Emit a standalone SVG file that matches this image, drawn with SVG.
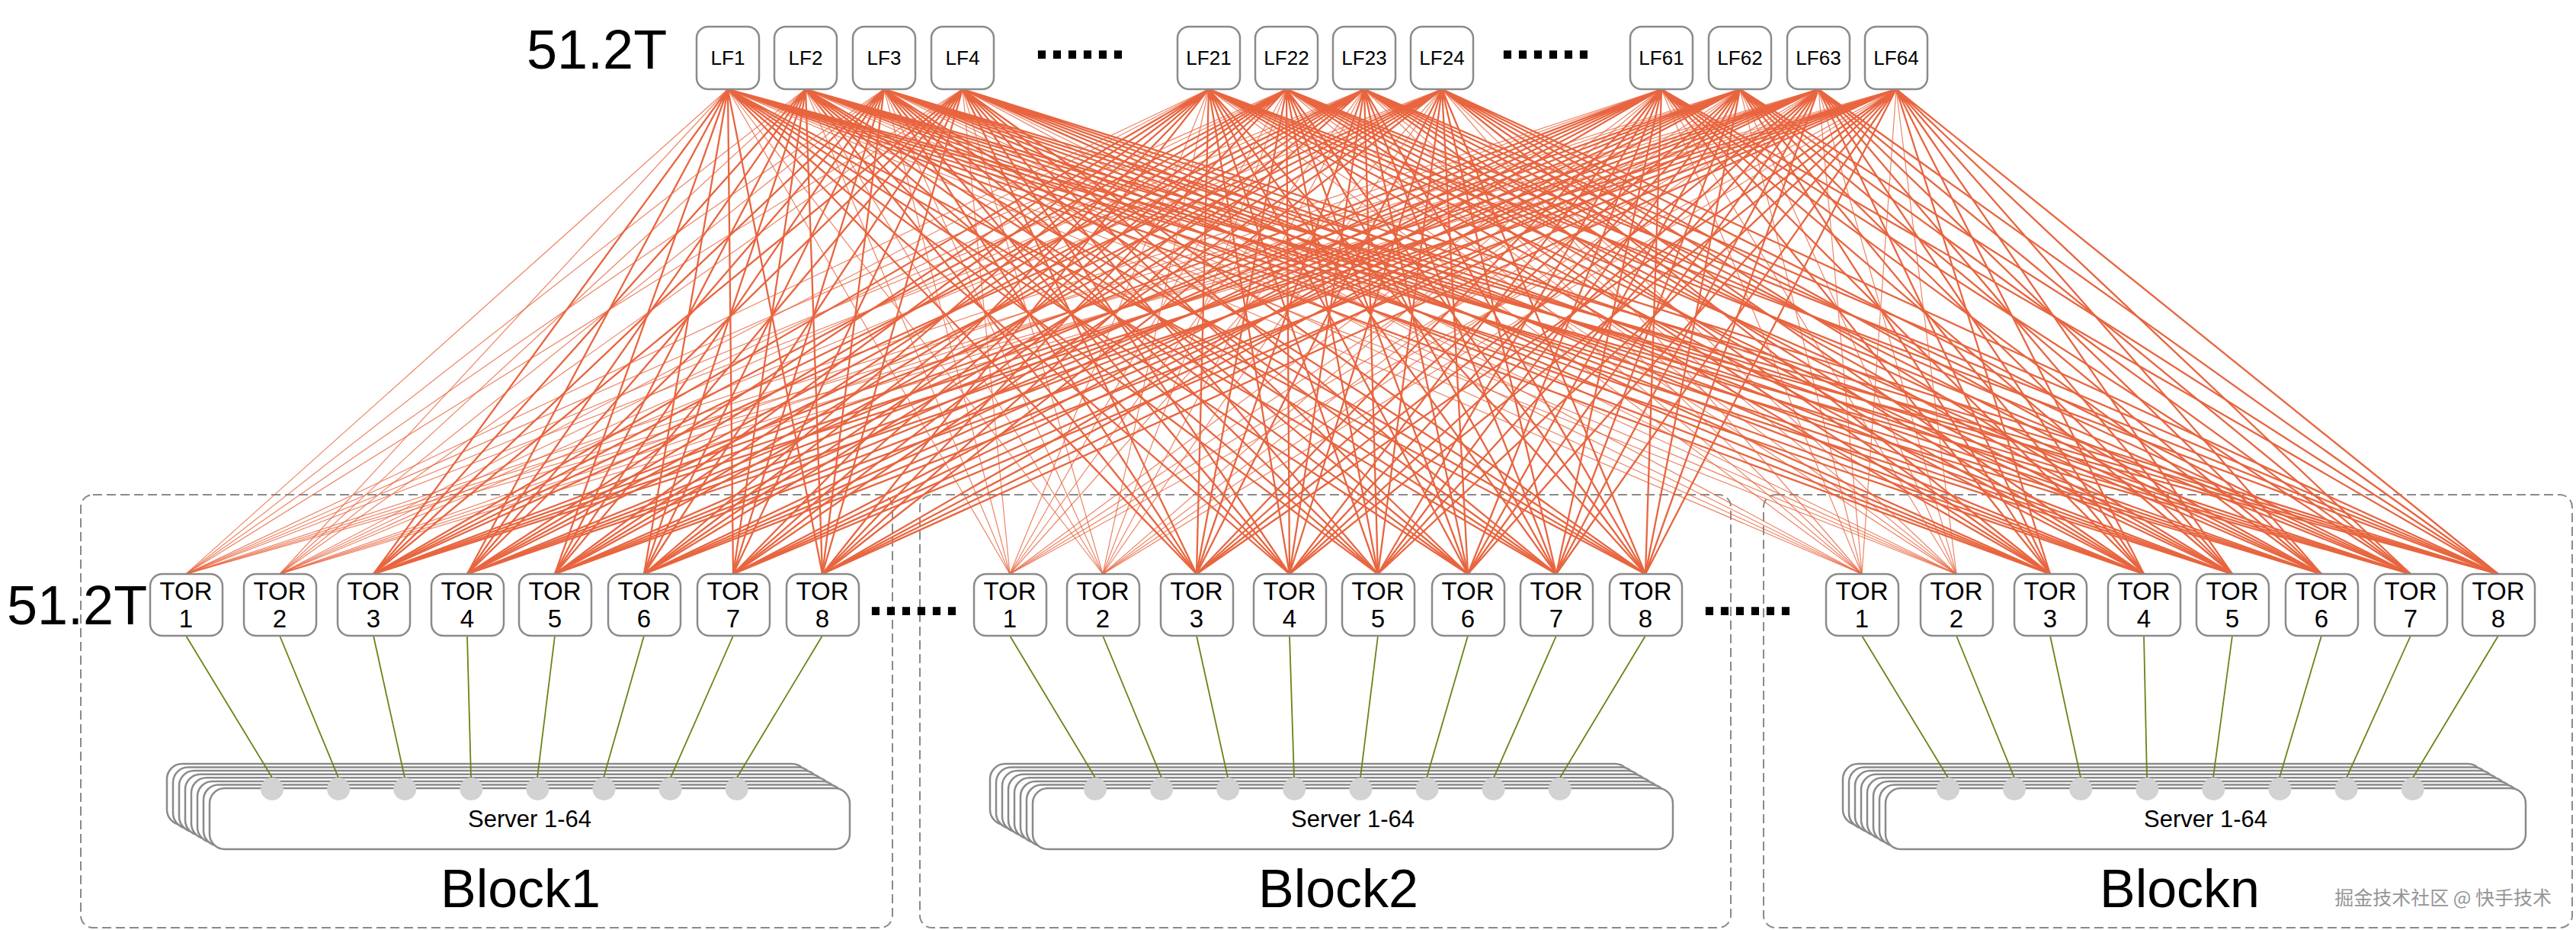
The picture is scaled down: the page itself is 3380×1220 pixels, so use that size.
<svg xmlns="http://www.w3.org/2000/svg" xmlns:xlink="http://www.w3.org/1999/xlink" width="3380" height="1220" viewBox="0 0 3380 1220">
<style>
text{font-family:"Liberation Sans",Arial,"Noto Sans CJK SC",sans-serif;fill:#000}
.box rect{fill:#fff;stroke:#8a8a8a;stroke-width:2.5}
.lbl{font-size:26px;text-anchor:middle}
.tl{font-size:33px;text-anchor:middle}
.blk{fill:none;stroke:#8a8a8a;stroke-width:2;stroke-dasharray:12 6}
.sr{fill:#fff;stroke:#8a8a8a;stroke-width:2.5}
.thick{fill:none;stroke:#e8653f;stroke-width:2.3;stroke-linejoin:round}
.thin{fill:none;stroke:#e8653f;stroke-width:1.2;stroke-linejoin:round;opacity:.8}
.grn line{stroke:#668516;stroke-width:1.8}
.big{font-size:72px}
.dots{font-size:72px;font-weight:bold}
.srvt{font-size:31px;text-anchor:middle}
.bt{font-size:70px;text-anchor:middle}
</style>
<defs>
<rect id="sr" class="sr" width="840" height="80" rx="20"/>
<g id="stack">
<use xlink:href="#sr" x="-56" y="-32"/>
<use xlink:href="#sr" x="-48" y="-27.4"/>
<use xlink:href="#sr" x="-40" y="-22.9"/>
<use xlink:href="#sr" x="-32" y="-18.3"/>
<use xlink:href="#sr" x="-24" y="-13.7"/>
<use xlink:href="#sr" x="-16" y="-9.1"/>
<use xlink:href="#sr" x="-8" y="-4.6"/>
<use xlink:href="#sr" x="0" y="0"/>
<g fill="#d3d3d3">
<circle cx="82" cy="1" r="15"/><circle cx="169.1" cy="1" r="15"/><circle cx="256.2" cy="1" r="15"/><circle cx="343.3" cy="1" r="15"/>
<circle cx="430.4" cy="1" r="15"/><circle cx="517.5" cy="1" r="15"/><circle cx="604.6" cy="1" r="15"/><circle cx="691.7" cy="1" r="15"/>
</g>
</g>
</defs>
<rect width="3380" height="1220" fill="#fff"/>

<g id="block1"><rect class="blk" x="106" y="649" width="1065" height="568" rx="16"/><text class="bt" x="683" y="1190">Block1</text></g>
<g id="block2"><rect class="blk" x="1207" y="649" width="1064" height="568" rx="16"/><text class="bt" x="1756" y="1190">Block2</text></g>
<g id="blockn"><rect class="blk" x="2314" y="649" width="1061" height="568" rx="16"/><text class="bt" x="2860" y="1190">Blockn</text></g>

<g id="servers1"><use xlink:href="#stack" x="275" y="1034"/><text class="srvt" x="695" y="1085">Server 1-64</text></g>
<g id="servers2"><use xlink:href="#stack" x="1355" y="1034"/><text class="srvt" x="1775" y="1085">Server 1-64</text></g>
<g id="serversn"><use xlink:href="#stack" x="2474" y="1034"/><text class="srvt" x="2894" y="1085">Server 1-64</text></g>

<g id="connectors">
<path class="thin" d="M244 753L955 117L367 753M1325 753L955 117L1447 753M2443 753L955 117L2567 753"/>
<path class="thin" d="M244 753L1057 117L367 753M1325 753L1057 117L1447 753M2443 753L1057 117L2567 753"/>
<path class="thin" d="M244 753L1160 117L367 753M1325 753L1160 117L1447 753M2443 753L1160 117L2567 753"/>
<path class="thin" d="M244 753L1263 117L367 753M1325 753L1263 117L1447 753M2443 753L1263 117L2567 753"/>
<path class="thin" d="M244 753L1586 117L367 753M1325 753L1586 117L1447 753M2443 753L1586 117L2567 753"/>
<path class="thin" d="M244 753L1688 117L367 753M1325 753L1688 117L1447 753M2443 753L1688 117L2567 753"/>
<path class="thin" d="M244 753L1790 117L367 753M1325 753L1790 117L1447 753M2443 753L1790 117L2567 753"/>
<path class="thin" d="M244 753L1892 117L367 753M1325 753L1892 117L1447 753M2443 753L1892 117L2567 753"/>
<path class="thin" d="M244 753L2180 117L367 753M1325 753L2180 117L1447 753M2443 753L2180 117L2567 753"/>
<path class="thin" d="M244 753L2283 117L367 753M1325 753L2283 117L1447 753M2443 753L2283 117L2567 753"/>
<path class="thin" d="M244 753L2386 117L367 753M1325 753L2386 117L1447 753M2443 753L2386 117L2567 753"/>
<path class="thin" d="M244 753L2488 117L367 753M1325 753L2488 117L1447 753M2443 753L2488 117L2567 753"/>
<path class="thick" d="M490 753L955 117L613 753M728 753L955 117L845 753M962 753L955 117L1079 753M1570 753L955 117L1692 753M1808 753L955 117L1926 753M2042 753L955 117L2159 753M2690 753L955 117L2813 753M2929 753L955 117L3046 753M3163 753L955 117L3278 753"/>
<path class="thick" d="M490 753L1057 117L613 753M728 753L1057 117L845 753M962 753L1057 117L1079 753M1570 753L1057 117L1692 753M1808 753L1057 117L1926 753M2042 753L1057 117L2159 753M2690 753L1057 117L2813 753M2929 753L1057 117L3046 753M3163 753L1057 117L3278 753"/>
<path class="thick" d="M490 753L1160 117L613 753M728 753L1160 117L845 753M962 753L1160 117L1079 753M1570 753L1160 117L1692 753M1808 753L1160 117L1926 753M2042 753L1160 117L2159 753M2690 753L1160 117L2813 753M2929 753L1160 117L3046 753M3163 753L1160 117L3278 753"/>
<path class="thick" d="M490 753L1263 117L613 753M728 753L1263 117L845 753M962 753L1263 117L1079 753M1570 753L1263 117L1692 753M1808 753L1263 117L1926 753M2042 753L1263 117L2159 753M2690 753L1263 117L2813 753M2929 753L1263 117L3046 753M3163 753L1263 117L3278 753"/>
<path class="thick" d="M490 753L1586 117L613 753M728 753L1586 117L845 753M962 753L1586 117L1079 753M1570 753L1586 117L1692 753M1808 753L1586 117L1926 753M2042 753L1586 117L2159 753M2690 753L1586 117L2813 753M2929 753L1586 117L3046 753M3163 753L1586 117L3278 753"/>
<path class="thick" d="M490 753L1688 117L613 753M728 753L1688 117L845 753M962 753L1688 117L1079 753M1570 753L1688 117L1692 753M1808 753L1688 117L1926 753M2042 753L1688 117L2159 753M2690 753L1688 117L2813 753M2929 753L1688 117L3046 753M3163 753L1688 117L3278 753"/>
<path class="thick" d="M490 753L1790 117L613 753M728 753L1790 117L845 753M962 753L1790 117L1079 753M1570 753L1790 117L1692 753M1808 753L1790 117L1926 753M2042 753L1790 117L2159 753M2690 753L1790 117L2813 753M2929 753L1790 117L3046 753M3163 753L1790 117L3278 753"/>
<path class="thick" d="M490 753L1892 117L613 753M728 753L1892 117L845 753M962 753L1892 117L1079 753M1570 753L1892 117L1692 753M1808 753L1892 117L1926 753M2042 753L1892 117L2159 753M2690 753L1892 117L2813 753M2929 753L1892 117L3046 753M3163 753L1892 117L3278 753"/>
<path class="thick" d="M490 753L2180 117L613 753M728 753L2180 117L845 753M962 753L2180 117L1079 753M1570 753L2180 117L1692 753M1808 753L2180 117L1926 753M2042 753L2180 117L2159 753M2690 753L2180 117L2813 753M2929 753L2180 117L3046 753M3163 753L2180 117L3278 753"/>
<path class="thick" d="M490 753L2283 117L613 753M728 753L2283 117L845 753M962 753L2283 117L1079 753M1570 753L2283 117L1692 753M1808 753L2283 117L1926 753M2042 753L2283 117L2159 753M2690 753L2283 117L2813 753M2929 753L2283 117L3046 753M3163 753L2283 117L3278 753"/>
<path class="thick" d="M490 753L2386 117L613 753M728 753L2386 117L845 753M962 753L2386 117L1079 753M1570 753L2386 117L1692 753M1808 753L2386 117L1926 753M2042 753L2386 117L2159 753M2690 753L2386 117L2813 753M2929 753L2386 117L3046 753M3163 753L2386 117L3278 753"/>
<path class="thick" d="M490 753L2488 117L613 753M728 753L2488 117L845 753M962 753L2488 117L1079 753M1570 753L2488 117L1692 753M1808 753L2488 117L1926 753M2042 753L2488 117L2159 753M2690 753L2488 117L2813 753M2929 753L2488 117L3046 753M3163 753L2488 117L3278 753"/>
<g class="grn">
<line x1="244" y1="834" x2="357" y2="1020"/><line x1="367" y1="834" x2="444" y2="1020"/><line x1="490" y1="834" x2="531" y2="1020"/><line x1="613" y1="834" x2="618" y2="1020"/>
<line x1="728" y1="834" x2="705" y2="1020"/><line x1="845" y1="834" x2="792" y2="1020"/><line x1="962" y1="834" x2="880" y2="1020"/><line x1="1079" y1="834" x2="967" y2="1020"/>
<line x1="1325" y1="834" x2="1437" y2="1020"/><line x1="1447" y1="834" x2="1524" y2="1020"/><line x1="1570" y1="834" x2="1611" y2="1020"/><line x1="1692" y1="834" x2="1698" y2="1020"/>
<line x1="1808" y1="834" x2="1785" y2="1020"/><line x1="1926" y1="834" x2="1872" y2="1020"/><line x1="2042" y1="834" x2="1960" y2="1020"/><line x1="2159" y1="834" x2="2047" y2="1020"/>
<line x1="2443" y1="834" x2="2556" y2="1020"/><line x1="2567" y1="834" x2="2643" y2="1020"/><line x1="2690" y1="834" x2="2730" y2="1020"/><line x1="2813" y1="834" x2="2817" y2="1020"/>
<line x1="2929" y1="834" x2="2904" y2="1020"/><line x1="3046" y1="834" x2="2991" y2="1020"/><line x1="3163" y1="834" x2="3079" y2="1020"/><line x1="3278" y1="834" x2="3166" y2="1020"/>
</g>
</g>

<g class="box">
<g id="lf1"><rect x="914" y="35" width="82" height="82" rx="15"/><text class="lbl" x="955" y="85">LF1</text></g>
<g id="lf2"><rect x="1016" y="35" width="82" height="82" rx="15"/><text class="lbl" x="1057" y="85">LF2</text></g>
<g id="lf3"><rect x="1119" y="35" width="82" height="82" rx="15"/><text class="lbl" x="1160" y="85">LF3</text></g>
<g id="lf4"><rect x="1222" y="35" width="82" height="82" rx="15"/><text class="lbl" x="1263" y="85">LF4</text></g>
<g id="lf21"><rect x="1545" y="35" width="82" height="82" rx="15"/><text class="lbl" x="1586" y="85">LF21</text></g>
<g id="lf22"><rect x="1647" y="35" width="82" height="82" rx="15"/><text class="lbl" x="1688" y="85">LF22</text></g>
<g id="lf23"><rect x="1749" y="35" width="82" height="82" rx="15"/><text class="lbl" x="1790" y="85">LF23</text></g>
<g id="lf24"><rect x="1851" y="35" width="82" height="82" rx="15"/><text class="lbl" x="1892" y="85">LF24</text></g>
<g id="lf61"><rect x="2139" y="35" width="82" height="82" rx="15"/><text class="lbl" x="2180" y="85">LF61</text></g>
<g id="lf62"><rect x="2242" y="35" width="82" height="82" rx="15"/><text class="lbl" x="2283" y="85">LF62</text></g>
<g id="lf63"><rect x="2345" y="35" width="82" height="82" rx="15"/><text class="lbl" x="2386" y="85">LF63</text></g>
<g id="lf64"><rect x="2447" y="35" width="82" height="82" rx="15"/><text class="lbl" x="2488" y="85">LF64</text></g>

<g id="b1-tor1"><rect x="197" y="753" width="95" height="81" rx="16"/><text class="tl" x="244" y="787">TOR</text><text class="tl" x="244" y="823">1</text></g>
<g id="b1-tor2"><rect x="320" y="753" width="95" height="81" rx="16"/><text class="tl" x="367" y="787">TOR</text><text class="tl" x="367" y="823">2</text></g>
<g id="b1-tor3"><rect x="443" y="753" width="95" height="81" rx="16"/><text class="tl" x="490" y="787">TOR</text><text class="tl" x="490" y="823">3</text></g>
<g id="b1-tor4"><rect x="566" y="753" width="95" height="81" rx="16"/><text class="tl" x="613" y="787">TOR</text><text class="tl" x="613" y="823">4</text></g>
<g id="b1-tor5"><rect x="681" y="753" width="95" height="81" rx="16"/><text class="tl" x="728" y="787">TOR</text><text class="tl" x="728" y="823">5</text></g>
<g id="b1-tor6"><rect x="798" y="753" width="95" height="81" rx="16"/><text class="tl" x="845" y="787">TOR</text><text class="tl" x="845" y="823">6</text></g>
<g id="b1-tor7"><rect x="915" y="753" width="95" height="81" rx="16"/><text class="tl" x="962" y="787">TOR</text><text class="tl" x="962" y="823">7</text></g>
<g id="b1-tor8"><rect x="1032" y="753" width="95" height="81" rx="16"/><text class="tl" x="1079" y="787">TOR</text><text class="tl" x="1079" y="823">8</text></g>

<g id="b2-tor1"><rect x="1278" y="753" width="95" height="81" rx="16"/><text class="tl" x="1325" y="787">TOR</text><text class="tl" x="1325" y="823">1</text></g>
<g id="b2-tor2"><rect x="1400" y="753" width="95" height="81" rx="16"/><text class="tl" x="1447" y="787">TOR</text><text class="tl" x="1447" y="823">2</text></g>
<g id="b2-tor3"><rect x="1523" y="753" width="95" height="81" rx="16"/><text class="tl" x="1570" y="787">TOR</text><text class="tl" x="1570" y="823">3</text></g>
<g id="b2-tor4"><rect x="1645" y="753" width="95" height="81" rx="16"/><text class="tl" x="1692" y="787">TOR</text><text class="tl" x="1692" y="823">4</text></g>
<g id="b2-tor5"><rect x="1761" y="753" width="95" height="81" rx="16"/><text class="tl" x="1808" y="787">TOR</text><text class="tl" x="1808" y="823">5</text></g>
<g id="b2-tor6"><rect x="1879" y="753" width="95" height="81" rx="16"/><text class="tl" x="1926" y="787">TOR</text><text class="tl" x="1926" y="823">6</text></g>
<g id="b2-tor7"><rect x="1995" y="753" width="95" height="81" rx="16"/><text class="tl" x="2042" y="787">TOR</text><text class="tl" x="2042" y="823">7</text></g>
<g id="b2-tor8"><rect x="2112" y="753" width="95" height="81" rx="16"/><text class="tl" x="2159" y="787">TOR</text><text class="tl" x="2159" y="823">8</text></g>

<g id="bn-tor1"><rect x="2396" y="753" width="95" height="81" rx="16"/><text class="tl" x="2443" y="787">TOR</text><text class="tl" x="2443" y="823">1</text></g>
<g id="bn-tor2"><rect x="2520" y="753" width="95" height="81" rx="16"/><text class="tl" x="2567" y="787">TOR</text><text class="tl" x="2567" y="823">2</text></g>
<g id="bn-tor3"><rect x="2643" y="753" width="95" height="81" rx="16"/><text class="tl" x="2690" y="787">TOR</text><text class="tl" x="2690" y="823">3</text></g>
<g id="bn-tor4"><rect x="2766" y="753" width="95" height="81" rx="16"/><text class="tl" x="2813" y="787">TOR</text><text class="tl" x="2813" y="823">4</text></g>
<g id="bn-tor5"><rect x="2882" y="753" width="95" height="81" rx="16"/><text class="tl" x="2929" y="787">TOR</text><text class="tl" x="2929" y="823">5</text></g>
<g id="bn-tor6"><rect x="2999" y="753" width="95" height="81" rx="16"/><text class="tl" x="3046" y="787">TOR</text><text class="tl" x="3046" y="823">6</text></g>
<g id="bn-tor7"><rect x="3116" y="753" width="95" height="81" rx="16"/><text class="tl" x="3163" y="787">TOR</text><text class="tl" x="3163" y="823">7</text></g>
<g id="bn-tor8"><rect x="3231" y="753" width="95" height="81" rx="16"/><text class="tl" x="3278" y="787">TOR</text><text class="tl" x="3278" y="823">8</text></g>
</g>

<g id="labels">
<text class="big" x="691" y="90">51.2T</text>
<text class="big" x="9" y="819">51.2T</text>
<text class="dots" x="1357" y="77">......</text>
<text class="dots" x="1968" y="77">......</text>
<text class="dots" x="1139" y="807">......</text>
<text class="dots" x="2233" y="807">......</text>
<text x="3348" y="1187" style="font-family:'Noto Sans CJK SC','Liberation Sans',sans-serif;font-size:25px;fill:#959595;text-anchor:end">掘金技术社区 @ 快手技术</text>
</g>
</svg>
